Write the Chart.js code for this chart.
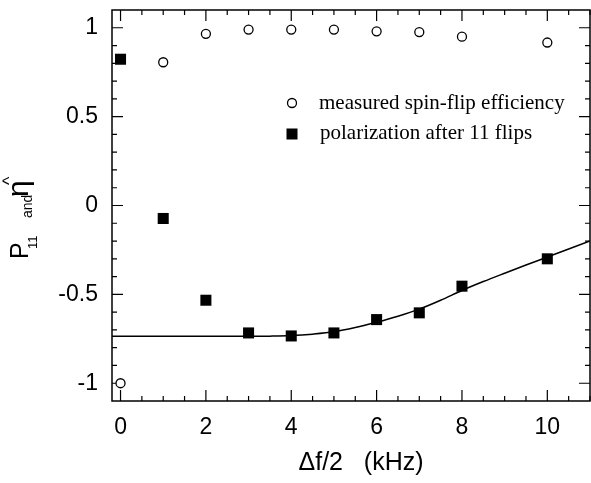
<!DOCTYPE html>
<html>
<head>
<meta charset="utf-8">
<script src="https://cdn.jsdelivr.net/npm/chart.js@4.4.0/dist/chart.umd.min.js"></script>
<style>
html, body { margin: 0; padding: 0; background: #fff; }
</style>
</head>
<body>
<canvas id="myChart" width="591" height="483"></canvas>
<script>
// measured spin-flip efficiency (open circles)
const effX = [0, 1, 2, 3, 4, 5, 6, 7, 8, 10];
const effY = [-1, 0.806, 0.966, 0.99, 0.99, 0.99, 0.98, 0.976, 0.95, 0.917];
// polarization after 11 flips (filled squares)
const polX = [0, 1, 2, 3, 4, 5, 6, 7, 8, 10];
const polY = [0.823, -0.073, -0.533, -0.717, -0.734, -0.717, -0.642, -0.604, -0.454, -0.30];
// fit curve
const fitX = [-0.2, 0, 1, 2, 3, 3.5, 4, 4.5, 5, 5.5, 6, 6.5, 7, 7.5, 8, 8.5, 9, 9.5, 10, 10.5, 11];
const fitY = [-0.736, -0.736, -0.736, -0.736, -0.736, -0.735, -0.732, -0.724, -0.711, -0.687, -0.657, -0.623, -0.583, -0.533, -0.478, -0.428, -0.381, -0.335, -0.29, -0.245, -0.2];
// tick labels
const xTicks = [0, 2, 4, 6, 8, 10];
const yTicks = [-1, -0.5, 0, 0.5, 1];
const xTitle = '\u0394f/2   (kHz)';

const toPts = (xs, ys) => xs.map((x, i) => ({x: x, y: ys[i]}));

const noPad = s => { s.paddingTop = 0; s.paddingBottom = 0; s.paddingLeft = 0; s.paddingRight = 0; };

const frame = {
    id: 'frame',
    beforeDatasetsDraw(chart) {
        const ctx = chart.ctx;
        const a = chart.chartArea;
        const xs = chart.scales.x, ys = chart.scales.y;
        ctx.save();
        ctx.strokeStyle = '#000';
        ctx.lineWidth = 1.5;
        ctx.strokeRect(a.left, a.top, a.right - a.left, a.bottom - a.top);
        ctx.lineWidth = 1.2;
        ctx.beginPath();
        for (let i = 0; i <= 22; i++) {
            const v = i * 0.5;
            const px = xs.getPixelForValue(v);
            const len = (i % 4 == 0) ? 11 : 5;
            ctx.moveTo(px, a.bottom); ctx.lineTo(px, a.bottom - len);
            ctx.moveTo(px, a.top); ctx.lineTo(px, a.top + len);
        }
        for (let i = -10; i <= 10; i++) {
            const v = i / 10;
            const py = ys.getPixelForValue(v);
            const len = (i % 5 == 0) ? 11 : 5;
            ctx.moveTo(a.left, py); ctx.lineTo(a.left + len, py);
            ctx.moveTo(a.right, py); ctx.lineTo(a.right - len, py);
        }
        ctx.stroke();
        ctx.restore();
    },
    afterDraw(chart) {
        const ctx = chart.ctx;
        ctx.save();
        // legend
        const ds = chart.data.datasets;
        ctx.fillStyle = '#000';
        ctx.strokeStyle = '#000';
        ctx.lineWidth = 1.3;
        ctx.beginPath();
        ctx.arc(292, 103, 4.5, 0, Math.PI * 2);
        ctx.stroke();
        ctx.fillRect(286.5, 128.5, 11, 11);
        ctx.font = '21px "Liberation Serif"';
        ctx.textBaseline = 'alphabetic';
        ctx.textAlign = 'left';
        ctx.fillText(ds[1].label, 319, 109);
        ctx.fillText(ds[0].label, 320, 139);

        // x title
        ctx.font = '25px "Liberation Sans"';
        ctx.textAlign = 'center';
        ctx.fillText(xTitle, 361, 470);
        ctx.textAlign = 'left';

        // rotated y title: P_11 and eta-hat
        const rot = (txt, font, bx, sy) => {
            ctx.save();
            ctx.font = font;
            ctx.translate(bx, sy);
            ctx.rotate(-Math.PI / 2);
            ctx.fillText(txt, 0, 0);
            ctx.restore();
        };
        rot('P', '25px "Liberation Sans"', 28, 259);
        rot('11', '13px "Liberation Sans"', 37, 249);
        rot('and', '14px "Liberation Sans"', 31.5, 218);
        rot('\u03B7', '30px "Liberation Sans"', 28, 197);
        rot('^', '18px "Liberation Sans"', 15, 185);
        ctx.restore();
    }
};

const ctx = document.getElementById('myChart').getContext('2d');
const myChart = new Chart(ctx, {
    type: 'scatter',
    data: {
        datasets: [{
            label: 'polarization after 11 flips',
            data: toPts(polX, polY),
            pointStyle: 'rect',
            pointRadius: 7.8,
            backgroundColor: '#000',
            borderColor: '#000',
            borderWidth: 0
        }, {
            label: 'measured spin-flip efficiency',
            data: toPts(effX, effY),
            pointStyle: 'circle',
            pointRadius: 4.5,
            backgroundColor: '#fff',
            borderColor: '#000',
            borderWidth: 1.3
        }, {
            label: 'fit',
            data: toPts(fitX, fitY),
            showLine: true,
            pointRadius: 0,
            borderColor: '#000',
            borderWidth: 1.5,
            cubicInterpolationMode: 'monotone',
            fill: false
        }]
    },
    options: {
        responsive: false,
        animation: false,
        events: [],
        layout: {autoPadding: false, padding: {top: 10, right: 1, left: 0, bottom: 0}},
        plugins: {
            legend: {display: false},
            tooltip: {enabled: false}
        },
        scales: {
            x: {
                type: 'linear',
                min: -0.2,
                max: 11,
                afterBuildTicks: s => { s.ticks = xTicks.map(v => ({value: v})); },
                afterFit: s => { s.height = 82; noPad(s); },
                grid: {display: false},
                border: {display: false},
                ticks: {
                    color: '#000',
                    padding: 5,
                    maxRotation: 0,
                    callback: v => String(v),
                    font: {family: '"Liberation Sans"', size: 23}
                }
            },
            y: {
                type: 'linear',
                min: -1.1,
                max: 1.1,
                afterBuildTicks: s => { s.ticks = yTicks.map(v => ({value: v})); },
                afterFit: s => { s.width = 112; noPad(s); },
                grid: {display: false},
                border: {display: false},
                ticks: {
                    color: '#000',
                    padding: 6,
                    callback: v => String(v),
                    font: {family: '"Liberation Sans"', size: 23}
                }
            }
        }
    },
    plugins: [frame]
});
</script>
</body>
</html>
